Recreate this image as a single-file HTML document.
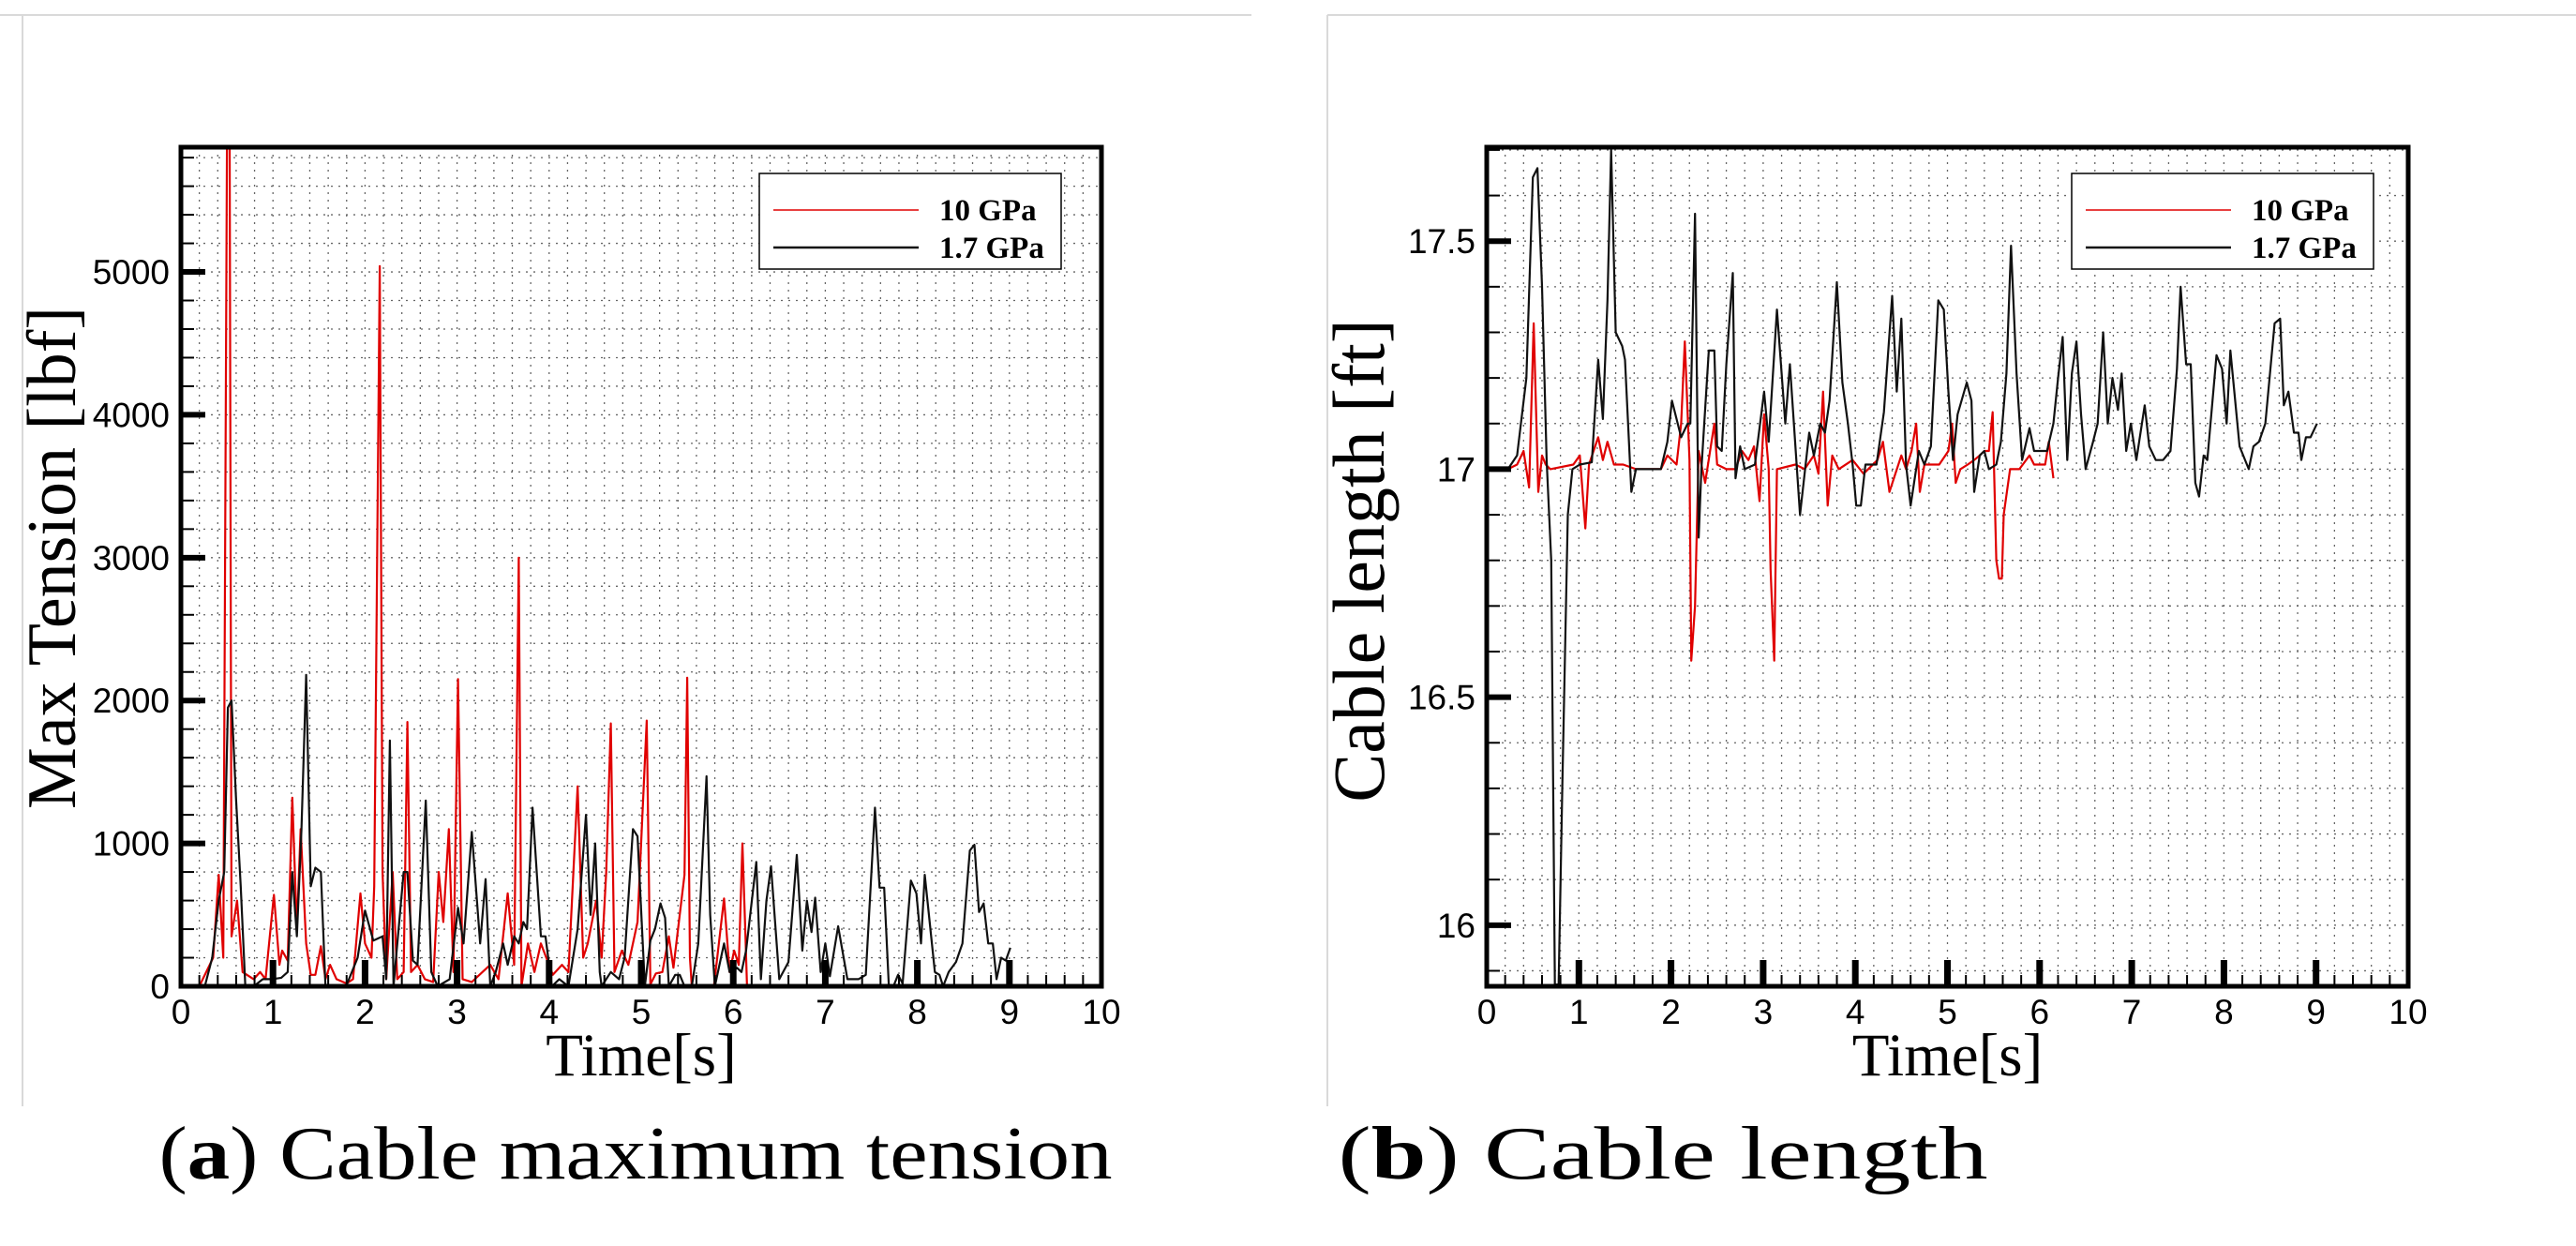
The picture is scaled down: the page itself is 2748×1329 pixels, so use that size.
<!DOCTYPE html>
<html><head><meta charset="utf-8"><style>
html,body{margin:0;padding:0;background:#fff;}
svg{display:block;}
</style></head><body>
<svg id="fig" width="2748" height="1329" viewBox="0 0 2748 1329" xmlns="http://www.w3.org/2000/svg">
<g stroke="#d9d9d9" stroke-width="2" fill="none">
<line x1="0" y1="16" x2="1335" y2="16"/><line x1="24" y1="16" x2="24" y2="1180"/>
<line x1="1416" y1="16" x2="2748" y2="16"/><line x1="1416" y1="16" x2="1416" y2="1180"/>
</g>
<g id="chartA"></g>
<g id="chartB"></g>
<text x="678" y="1257" text-anchor="middle" font-family="Liberation Serif, serif" font-size="80" textLength="1017" lengthAdjust="spacingAndGlyphs">(<tspan font-weight="bold">a</tspan>) Cable maximum tension</text>
<text x="1774" y="1257" text-anchor="middle" font-family="Liberation Serif, serif" font-size="80" textLength="693" lengthAdjust="spacingAndGlyphs">(<tspan font-weight="bold">b</tspan>) Cable length</text>
</svg>
<script>
// ---- Chart A data (Max tension, lbf) ----
const tA10 = [0,0.2,0.35,0.41,0.46,0.5,0.53,0.55,0.61,0.67,0.79,0.86,0.92,1.01,1.07,1.1,1.16,1.21,1.26,1.3,1.36,1.41,1.46,1.52,1.57,1.62,1.69,1.8,1.87,1.95,2.0,2.07,2.1,2.16,2.19,2.23,2.3,2.35,2.42,2.46,2.5,2.57,2.65,2.74,2.8,2.85,2.91,2.96,3.01,3.06,3.16,3.36,3.45,3.55,3.62,3.67,3.7,3.77,3.84,3.91,4.04,4.14,4.21,4.31,4.37,4.42,4.51,4.57,4.62,4.67,4.71,4.79,4.86,4.96,5.06,5.1,5.16,5.23,5.3,5.35,5.4,5.47,5.5,5.53,5.55,5.79,5.9,5.96,6.01,6.06,6.1,6.13,6.15];
const vA10 = [0,0,200,780,200,5870,5870,350,600,100,50,100,50,640,150,250,180,1320,400,1100,300,80,80,280,50,150,50,20,50,650,300,200,700,5040,800,50,800,50,100,1850,100,150,50,30,800,450,1100,100,2150,50,30,150,50,650,150,3000,0,300,100,300,80,150,100,1400,200,300,600,200,800,1840,100,250,150,450,1860,13,90,100,350,130,400,780,2160,200,0,0,615,100,250,150,1000,400,0];
const tA17 = [0,0.26,0.34,0.41,0.47,0.51,0.55,0.6,0.65,0.7,0.79,0.89,0.99,1.09,1.16,1.21,1.26,1.31,1.36,1.41,1.46,1.52,1.57,1.67,1.8,1.92,2.0,2.09,2.19,2.23,2.27,2.31,2.42,2.46,2.52,2.57,2.66,2.72,2.79,2.84,2.92,3.01,3.07,3.16,3.25,3.31,3.36,3.42,3.5,3.55,3.62,3.67,3.72,3.76,3.82,3.91,3.96,4.03,4.11,4.21,4.31,4.4,4.45,4.5,4.55,4.57,4.67,4.76,4.82,4.91,4.96,5.04,5.1,5.15,5.21,5.26,5.3,5.37,5.42,5.47,5.55,5.62,5.71,5.75,5.8,5.9,5.96,6.04,6.09,6.14,6.25,6.3,6.36,6.41,6.5,6.6,6.69,6.75,6.8,6.85,6.89,6.95,7.0,7.05,7.14,7.24,7.36,7.44,7.54,7.59,7.64,7.69,7.74,7.79,7.84,7.93,7.99,8.04,8.08,8.19,8.24,8.28,8.34,8.42,8.49,8.57,8.62,8.67,8.72,8.77,8.82,8.86,8.91,8.96,9.01];
const vA17 = [0,0,200,600,800,1950,2000,1300,700,0,0,50,50,60,100,800,350,1100,2180,700,830,800,0,0,10,200,530,320,350,50,1720,0,800,800,180,150,1300,100,0,20,50,550,300,1080,300,750,0,100,300,150,350,300,450,400,1250,350,350,0,50,0,400,1200,500,1000,100,0,100,50,200,1100,1050,0,320,400,580,480,0,80,80,0,0,300,1470,500,0,300,100,130,100,250,870,50,600,840,50,170,920,250,600,380,620,100,300,70,420,50,50,80,1250,690,690,0,0,80,20,740,650,300,780,100,80,0,100,170,300,950,990,520,580,300,300,50,200,180,270];
const xTicksA = [0,1,2,3,4,5,6,7,8,9,10];
const yTicksA = [0,1000,2000,3000,4000,5000];
// ---- Chart B data (Cable length, ft) ----
const tB10 = [0,0.23,0.33,0.4,0.46,0.51,0.56,0.6,0.64,0.69,0.94,1.01,1.07,1.11,1.21,1.26,1.31,1.38,1.48,1.62,1.89,1.96,2.06,2.11,2.15,2.2,2.22,2.26,2.3,2.37,2.47,2.5,2.6,2.7,2.77,2.84,2.9,2.96,3.01,3.06,3.08,3.12,3.15,3.35,3.45,3.55,3.6,3.65,3.7,3.75,3.82,3.97,4.09,4.24,4.3,4.37,4.5,4.55,4.61,4.66,4.7,4.75,4.91,5.01,5.05,5.09,5.14,5.22,5.29,5.35,5.4,5.45,5.49,5.53,5.56,5.59,5.61,5.68,5.78,5.89,5.94,5.99,6.06,6.1,6.15];
const vB10 = [17,17,17.01,17.04,16.96,17.32,16.95,17.03,17.01,17,17.01,17.03,16.87,17.01,17.07,17.02,17.06,17.01,17.01,17,17,17.03,17.01,17.1,17.28,17.02,16.58,16.7,17.04,16.97,17.1,17.01,17,17,17.04,17.02,17.05,16.93,17.12,17,16.78,16.58,17,17.01,17,17.03,16.99,17.17,16.92,17.03,17,17.02,16.99,17.02,17.06,16.95,17.03,17,17.04,17.1,16.95,17.01,17.01,17.04,17.1,16.97,17,17.01,17.02,17.03,17.04,17.04,17.125,16.8,16.76,16.76,16.9,17,17,17.03,17.01,17.01,17.01,17.06,16.98];
const tB17 = [0,0.23,0.33,0.43,0.5,0.55,0.6,0.65,0.7,0.74,0.78,0.82,0.88,0.93,1.01,1.14,1.21,1.26,1.31,1.35,1.4,1.47,1.5,1.57,1.62,1.89,1.96,2.01,2.11,2.18,2.21,2.26,2.3,2.33,2.41,2.47,2.5,2.55,2.6,2.67,2.7,2.75,2.8,2.91,3.01,3.06,3.15,3.24,3.29,3.4,3.5,3.55,3.62,3.67,3.72,3.8,3.86,3.92,3.97,4.01,4.06,4.11,4.23,4.31,4.4,4.45,4.5,4.55,4.6,4.69,4.75,4.82,4.9,4.96,5.01,5.06,5.11,5.21,5.26,5.29,5.35,5.4,5.45,5.53,5.58,5.64,5.69,5.75,5.81,5.89,5.94,6.08,6.15,6.2,6.25,6.3,6.35,6.4,6.45,6.5,6.58,6.63,6.69,6.74,6.79,6.85,6.89,6.94,6.99,7.05,7.14,7.19,7.26,7.34,7.42,7.49,7.53,7.59,7.64,7.69,7.73,7.78,7.82,7.92,7.98,8.03,8.07,8.17,8.27,8.32,8.38,8.45,8.55,8.61,8.65,8.7,8.76,8.81,8.84,8.89,8.94,9.01];
const vB17 = [17,17,17.03,17.2,17.64,17.66,17.4,17.02,16.8,15.87,15.87,16.3,16.9,17,17.01,17.015,17.24,17.11,17.37,17.7,17.3,17.27,17.24,16.95,17,17,17.06,17.15,17.07,17.1,17.1,17.56,16.85,17,17.26,17.26,17.05,17.04,17.23,17.43,16.98,17.05,17,17.01,17.17,17.06,17.35,17.1,17.23,16.9,17.08,17.03,17.1,17.08,17.15,17.41,17.19,17.1,17.01,16.92,16.92,17.01,17.01,17.125,17.38,17.17,17.33,17.01,16.92,17.04,17.01,17.05,17.37,17.35,17.17,17.02,17.12,17.19,17.15,16.95,17.03,17.04,17,17.01,17.06,17.21,17.49,17.21,17.02,17.09,17.04,17.04,17.1,17.2,17.29,17.02,17.21,17.28,17.12,17,17.06,17.1,17.3,17.1,17.2,17.13,17.21,17.04,17.1,17.02,17.14,17.05,17.02,17.02,17.04,17.22,17.4,17.23,17.23,16.97,16.94,17.03,17.02,17.25,17.22,17.1,17.26,17.05,17,17.05,17.06,17.1,17.32,17.33,17.14,17.17,17.08,17.08,17.02,17.07,17.07,17.1];
const xTicksB = [0,1,2,3,4,5,6,7,8,9,10];
const yTicksB = [16,16.5,17,17.5];
const yTickLabelsB = ["16","16.5","17","17.5"];

const NS = "http://www.w3.org/2000/svg";
function mk(parent, tag, attrs){const e=document.createElementNS(NS,tag);for(const k in attrs)e.setAttribute(k,attrs[k]);parent.appendChild(e);return e;}

function drawChart(g, cfg){
  const {L,R,T,B,xmin,xmax,ymin,ymax} = cfg;
  const sx = t => L + (t - xmin) / (xmax - xmin) * (R - L);
  const sy = v => B - (v - ymin) / (ymax - ymin) * (B - T);
  const grid = mk(g,'g',{stroke:'#666','stroke-width':1.3,'stroke-dasharray':'2 6',fill:'none'});
  
  
  for(let i=1;i<50;i++){const x=sx(xmin+i*(xmax-xmin)/50);mk(grid,'line',{x1:x,y1:T,x2:x,y2:B});}
  for(let v=ymin-(ymin%cfg.minor)+cfg.minor; v<ymax-1e-9; v+=cfg.minor){const y=sy(v);if(y<B-2)mk(grid,'line',{x1:L,y1:y,x2:R,y2:y});}
  cfg.series.forEach(s=>{
    const pts = s.t.map((t,i)=>sx(t).toFixed(1)+','+Math.max(T,Math.min(B,sy(s.v[i]))).toFixed(1)).join(' ');
    const pl = mk(g,'polyline',{points:pts,fill:'none',stroke:s.color,'stroke-width':2.2,'stroke-linejoin':'round'});
    
    
  });
  const tk = mk(g,'g',{stroke:'#000',fill:'none'});
  
  
  for(let i=1;i<50;i++){const x=sx(xmin+i*(xmax-xmin)/50);const maj=i%5===0;mk(tk,'line',{x1:x,y1:B,x2:x,y2:B-(maj?28:12),'stroke-width':maj?7:2});}
  for(let v=ymin-(ymin%cfg.minor)+cfg.minor; v<ymax-1e-9; v+=cfg.minor){const y=sy(v);const maj=Math.abs(v/cfg.major-Math.round(v/cfg.major))<1e-6;mk(tk,'line',{x1:L,y1:y,x2:L+(maj?26:14),y2:y,'stroke-width':maj?6:2});}
  const fr = mk(g,'rect',{x:L,y:T,width:R-L,height:B-T,fill:'none',stroke:'#000','stroke-width':5});
  
  
  cfg.xTicks.forEach(t=>{
    const e=mk(g,'text',{x:sx(t),y:B+40,'text-anchor':'middle','font-family':'Liberation Sans, sans-serif','font-size':37});
    e.textContent=String(t);
    
    
  });
  cfg.yTicks.forEach((v,i)=>{
    const e=mk(g,'text',{x:L-12,y:sy(v)+13,'text-anchor':'end','font-family':'Liberation Sans, sans-serif','font-size':37});
    e.textContent=cfg.yLabels?cfg.yLabels[i]:String(v);
    
    
  });
  const xt=mk(g,'text',{x:(L+R)/2,y:B+95,'text-anchor':'middle','font-family':'Liberation Serif, serif','font-size':65});
  xt.textContent='Time[s]';
  
  
  const yt=mk(g,'text',{x:0,y:0,'text-anchor':'middle','font-family':'Liberation Serif, serif','font-size':cfg.ytSize,transform:`translate(${cfg.ytX},${cfg.ytY}) rotate(-90)`});
  yt.textContent=cfg.yTitle;
  
  
  const lg=mk(g,'g',{});
  
  
  const lx=cfg.legX;
  mk(lg,'rect',{x:lx,y:185,width:322,height:102,fill:'#fff',stroke:'#000','stroke-width':1.5});
  cfg.series.forEach((s,i)=>{
    const y=224+i*40;
    mk(lg,'line',{x1:lx+15,y1:y,x2:lx+170,y2:y,stroke:s.color,'stroke-width':i===0?1.5:2.5});
    const tx=mk(lg,'text',{x:lx+192,y:y+11,'font-family':'Liberation Serif, serif','font-size':33,'font-weight':'bold'});
    tx.textContent=s.label;
    
    
  });
}

drawChart(document.getElementById('chartA'),{
  L:193,R:1175,T:157,B:1052,xmin:0,xmax:10,ymin:0,ymax:5873,minor:200,major:1000,
  xTicks:xTicksA,yTicks:yTicksA,yTitle:'Max Tension [lbf]',ytX:80,ytY:595,ytSize:74,legX:810,
  series:[{t:tA10,v:vA10,color:'#e00000',name:'series-10gpa',label:'10 GPa'},{t:tA17,v:vA17,color:'#111',name:'series-1-7gpa',label:'1.7 GPa'}]
});
drawChart(document.getElementById('chartB'),{
  L:1586,R:2569,T:157,B:1052,xmin:0,xmax:10,ymin:15.866,ymax:17.706,minor:0.1,major:0.5,
  xTicks:xTicksB,yTicks:yTicksB,yLabels:yTickLabelsB,yTitle:'Cable length [ft]',ytX:1476,ytY:598,ytSize:78,legX:2210,
  series:[{t:tB10,v:vB10,color:'#e00000',name:'series-10gpa',label:'10 GPa'},{t:tB17,v:vB17,color:'#111',name:'series-1-7gpa',label:'1.7 GPa'}]
});
</script>
</body></html>
